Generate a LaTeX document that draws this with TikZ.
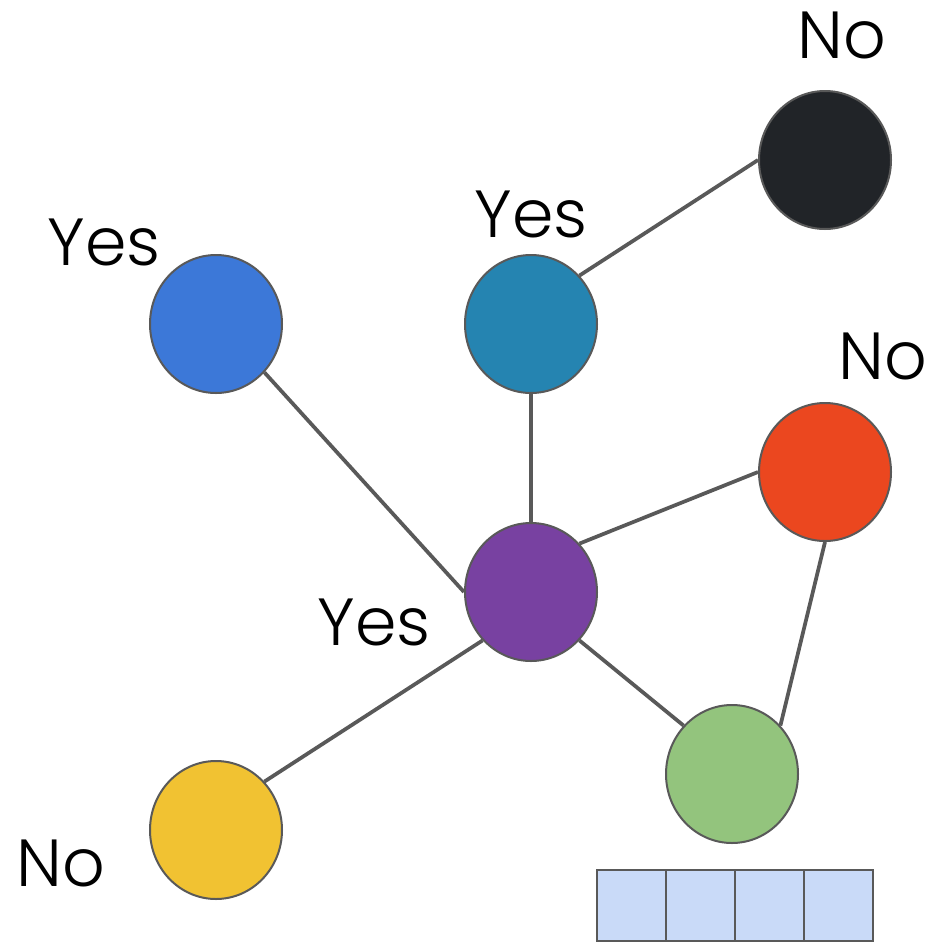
\documentclass[tikz,border=0pt]{standalone}
\usepackage{fontspec}
\setmainfont{Poppins Light}
\usetikzlibrary{shapes.geometric}
\definecolor{cblue}{HTML}{3C78D8}
\definecolor{cteal}{HTML}{2584B1}
\definecolor{cblack}{HTML}{212428}
\definecolor{cred}{HTML}{EB471F}
\definecolor{cpurple}{HTML}{7841A1}
\definecolor{cgreen}{HTML}{93C47D}
\definecolor{cyellow}{HTML}{F1C232}
\definecolor{cline}{HTML}{595959}
\definecolor{cbox}{HTML}{C9DAF8}
\tikzset{
  vert/.style={ellipse, draw=cline, line width=1.5pt, minimum width=99pt, minimum height=103.5pt, inner sep=0pt},
  edge/.style={draw=cline, line width=2.8pt},
  lab/.style={font=\fontsize{50}{50}\selectfont, inner sep=0pt, text=black},
  cell/.style={draw=cline, line width=1.8pt, fill=cbox, minimum width=51.75pt, minimum height=53.25pt, inner sep=0pt}
}
\begin{document}
\begin{tikzpicture}[x=0.75pt,y=-0.75pt]
\useasboundingbox (0,0) rectangle (936,943);
\fill[white] (0,0) rectangle (936,943);
\node[vert, fill=cblue] (blue) at (216,324) {};
\node[vert, fill=cteal] (teal) at (531,324) {};
\node[vert, fill=cblack] (blk) at (825,160) {};
\node[vert, fill=cred] (red) at (825,472) {};
\node[vert, fill=cpurple] (pur) at (531,592) {};
\node[vert, fill=cgreen] (grn) at (732,774) {};
\node[vert, fill=cyellow] (yel) at (216,830) {};
\draw[edge] (blue.-45) -- (pur.west);
\draw[edge] (teal.south) -- (pur.north);
\draw[edge] (teal.45) -- (blk.west);
\draw[edge] (pur.45) -- (red.west);
\draw[edge] (pur.-45) -- (grn.135);
\draw[edge] (pur.225) -- (yel.45);
\draw[edge] (red.south) -- (grn.45);
\node[cell] (c1) at (631.5,905.5) {};
\node[cell] (c2) at (700.5,905.5) {};
\node[cell] (c3) at (769.5,905.5) {};
\node[cell] (c4) at (838.5,905.5) {};
\node[lab] (l1) at (104,242) {Yes};
\node[lab] (l2) at (531,214) {Yes};
\node[lab] (l3) at (842,35) {No};
\node[lab] (l4) at (883,356) {No};
\node[lab] (l5) at (374,622) {Yes};
\node[lab] (l6) at (61,863) {No};
\end{tikzpicture}
\end{document}
